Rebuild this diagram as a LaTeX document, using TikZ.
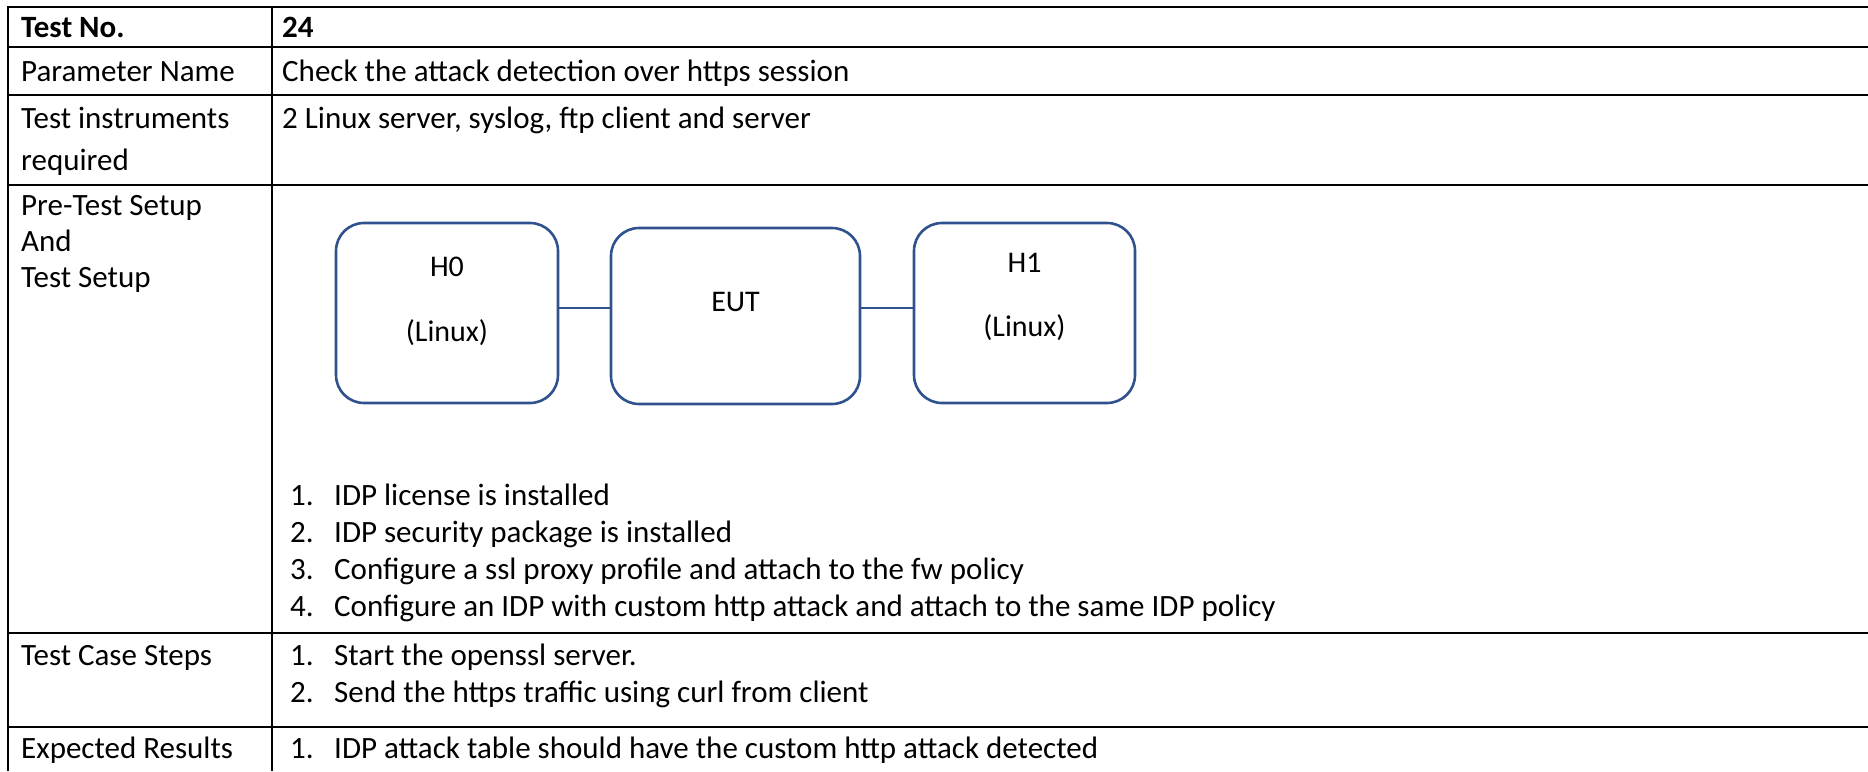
\documentclass[tikz,border=0pt]{standalone}
\usepackage{fontspec}
\setmainfont{Carlito}
\usetikzlibrary{calc}
\definecolor{boxblue}{RGB}{47,82,143}
\tikzset{
  cell/.style={anchor=base west, inner sep=0pt, font=\fontsize{31}{37}\selectfont},
  host/.style={draw=boxblue, line width=2.6pt, rounded corners=28pt, inner sep=0pt},
  hostname/.style={inner sep=0pt, font=\fontsize{30}{36}\selectfont},
  link/.style={draw=boxblue, line width=2.6pt}
}

\begin{document}
\begin{tikzpicture}[x=1pt,y=-1pt]
        \useasboundingbox (0,0) rectangle (1868,771);
        % table rules
        \draw[line width=2pt] (7,7) -- (1868,7);
        \draw[line width=2pt] (7,47) -- (1868,47);
        \draw[line width=2pt] (7,95) -- (1868,95);
        \draw[line width=2pt] (7,185) -- (1868,185);
        \draw[line width=2pt] (7,633) -- (1868,633);
        \draw[line width=2pt] (7,727) -- (1868,727);
        \draw[line width=2pt] (8,6) -- (8,771);
        \draw[line width=2pt] (272,6) -- (272,771);
        % left column
        \node [cell] (tno) at (21,37) {\bfseries Test No.};
        \node [cell] (pname) at (21,81) {Parameter Name};
        \node [cell] (instr) at (21,128) {Test instruments};
        \node [cell] (instrb) at (21,170) {required};
        \node [cell] (setupa) at (21,215) {Pre-Test Setup};
        \node [cell] (setupb) at (21,251) {And};
        \node [cell] (setupc) at (21,287) {Test Setup};
        \node [cell] (steps) at (21,665) {Test Case Steps};
        \node [cell] (result) at (21,758) {Expected Results};
        % right column
        \node [cell] (tnoval) at (282,37) {\bfseries 24};
        \node [cell] (pnameval) at (282,81) {Check the attack detection over https session};
        \node [cell] (instrval) at (282,128) {2 Linux server, syslog, ftp client and server};
        % setup drawing
        \node [host, minimum width=222pt, minimum height=180pt] (h0) at (447,313) {};
        \node [host, minimum width=249pt, minimum height=176pt] (eut) at (735.5,316) {};
        \node [host, minimum width=221pt, minimum height=180pt] (h1) at (1024.5,313) {};
        \draw[link] ([yshift=5pt]h0.east) coordinate (la) -- (la -| eut.west);
        \draw[link] ([yshift=5pt]h1.west) coordinate (lb) -- (lb -| eut.east);
        \node [hostname] (h0name) at (447,267) {H0};
        \node [hostname] (h0os) at (447,333) {(Linux)};
        \node [hostname] (eutname) at (735.5,302) {EUT};
        \node [hostname] (h1name) at (1024.5,263) {H1};
        \node [hostname] (h1os) at (1024.5,328) {(Linux)};
        % pre-test list
        \node [cell] (pa) at (290,505) {1.};
        \node [cell] (pat) at (334,505) {IDP license is installed};
        \node [cell] (pb) at (290,542) {2.};
        \node [cell] (pbt) at (334,542) {IDP security package is installed};
        \node [cell] (pc) at (290,579) {3.};
        \node [cell] (pct) at (334,579) {Configure a ssl proxy profile and attach to the fw policy};
        \node [cell] (pd) at (290,616) {4.};
        \node [cell] (pdt) at (334,616) {Configure an IDP with custom http attack and attach to the same IDP policy};
        % steps
        \node [cell] (sa) at (290,665) {1.};
        \node [cell] (sat) at (334,665) {Start the openssl server.};
        \node [cell] (sb) at (290,702) {2.};
        \node [cell] (sbt) at (334,702) {Send the https traffic using curl from client};
        % expected
        \node [cell] (ra) at (290,758) {1.};
        \node [cell] (rat) at (334,758) {IDP attack table should have the custom http attack detected};
    \end{tikzpicture}
\end{document}
